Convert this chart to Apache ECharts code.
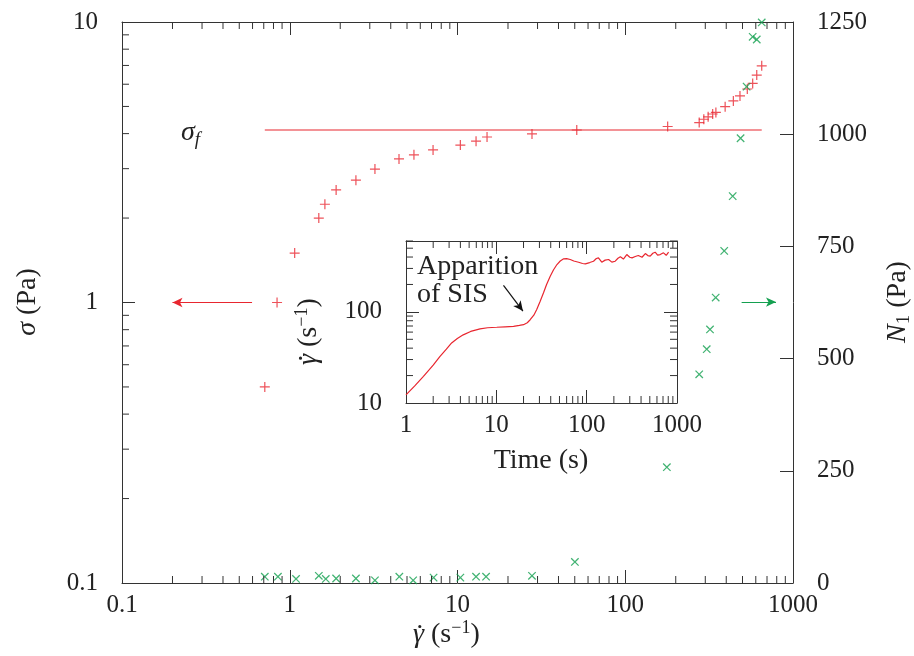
<!DOCTYPE html>
<html><head><meta charset="utf-8">
<script src="https://cdn.jsdelivr.net/npm/echarts@6/dist/echarts.min.js"></script>
<style>html,body{margin:0;padding:0;background:#fff}#c{width:914px;height:656px}</style>
</head><body><div id="c"></div>
<script>
// ---- main plot data ----
const sigmaRate = [0.71,0.84,1.07,1.49,1.62,1.89,2.48,3.22,4.48,5.5,7.15,10.4,12.9,15,27.8,51.4,179,276,294,312,332,347,394,441,483,534,575,608,651];
const sigmaVals = [0.5,1.0,1.5,2.0,2.24,2.52,2.73,2.99,3.25,3.36,3.5,3.64,3.76,3.89,3.99,4.12,4.24,4.38,4.5,4.59,4.7,4.76,4.99,5.23,5.45,5.77,6.04,6.47,6.98];
const n1Rate = [0.71,0.85,1.09,1.49,1.64,1.89,2.48,3.22,4.5,5.44,7.2,10.4,12.9,14.8,27.8,50.1,177,276,306,320,346,389,437,487,529,575,608,651];
const n1Vals = [14,14,9,16,9,10,10,6,14,6,12,12,14,14,16,47,258,465,521,565,636,740,862,991,1106,1217,1211,1249];
const sigmaFRate = [0.71, 651];
const sigmaF = 4.12;
const redArrow = [[0.596, 1], [0.2, 1]];      // x: rate, y: sigma
const greenArrow = [[494, 626], [792, 626]];  // x: rate, y: N1
// ---- inset data ----
const insetTime = [1,1.25,1.56,2,2.38,2.8,3.2,3.7,4.3,5.2,6.6,8,10.1,12.5,15.5,18,20,22,23.7,26,28,30.5,33.3,36,39.5,43,46.9,51,55.6,60,65.8,72,81.4,90,96.6,108,119,128,135,147,160,175,190,207,222,236,255,278,300,318,345,373,410,446,475,505,540,573,610,652,680,708,760,807];
const insetRate = [12.3,15.4,19.6,26,32.5,39,45.6,51,56,61,65,67,67.8,68.6,69.5,71,72.4,76,82,92,106,130,162,200,246,290,331,362,382,384,376,362,351,340,337,348,360,385,392,351,370,376,352,360,388,402,380,426,398,392,405,416,398,437,415,409,440,452,420,426,448,445,418,452];
const insetArrow = [[12, 195], [19.7, 102]];
// ---- tick labels ----
const xTicks = [0.1, 1, 10, 100, 1000];
const sigmaTicks = [0.1, 1, 10];
const n1Ticks = [0, 250, 500, 750, 1000, 1250];
const insetXTicks = [1, 10, 100, 1000];
const insetYTicks = [10, 100];

const RED = '#e8262f', GREEN = '#14a050', AX = '#333', TXT = '#222';
const FONT = 'Liberation Serif';
const PLUS = 'path://M-1.2,-10L1.2,-10L1.2,-1.2L10,-1.2L10,1.2L1.2,1.2L1.2,10L-1.2,10L-1.2,1.2L-10,1.2L-10,-1.2L-1.2,-1.2Z';

function minors(decades, ks) { const r = []; decades.forEach(d => ks.forEach(k => r.push(+(d * k).toPrecision(6)))); return r; }
const mainXMinor = minors([0.1, 1, 10, 100], [2,3,4,5,6,7,8,9]);
const mainYMinor = minors([0.1, 1], [2,3,4,5,6,7,8,9]);
const insetXMinor = minors([1, 10, 100], [2,3,4,5,6,7,8,9]);
const insetYMinor = minors([10], [2,3,4,5,6,7,8,9]).concat(minors([100], [2,3,4,5,6]));

function fmt(list) { return v => { for (const t of list) if (Math.abs(v - t) / Math.max(t, 1e-9) < 1e-6 || v === t) return String(t); return ''; }; }

function logAxis(grid, pos, min, max, labels, showLabel, margin) {
  return {
    type: 'log', logBase: 10, gridIndex: grid, position: pos, min: min, max: max,
    axisLine: { show: true, lineStyle: { color: AX, width: 1 } },
    axisTick: { show: true, inside: true, length: 13, lineStyle: { color: AX, width: 1 } },
    axisLabel: { show: showLabel, formatter: fmt(labels), fontFamily: FONT, fontSize: 25, color: TXT, margin: margin, showMinLabel: true, showMaxLabel: true },
    splitLine: { show: false }, minorTick: { show: false }
  };
}

function tickSeries(xi, yi, vals, axis, lo, hi, both, len) {
  return {
    type: 'custom', xAxisIndex: xi, yAxisIndex: yi, silent: true, clip: false, z: 5,
    data: vals.map(v => axis === 'x' ? [v, lo] : [lo, v]),
    renderItem: (params, api) => {
      const ch = [];
      const st = { stroke: AX, lineWidth: 1 };
      if (axis === 'x') {
        const v = api.value(0);
        const a = api.coord([v, lo]);
        ch.push({ type: 'line', shape: { x1: a[0], y1: a[1], x2: a[0], y2: a[1] - len }, style: st });
        if (both) { const b = api.coord([v, hi]); ch.push({ type: 'line', shape: { x1: b[0], y1: b[1], x2: b[0], y2: b[1] + len }, style: st }); }
      } else {
        const v = api.value(1);
        const a = api.coord([lo, v]);
        ch.push({ type: 'line', shape: { x1: a[0], y1: a[1], x2: a[0] + len, y2: a[1] }, style: st });
        if (both) { const b = api.coord([hi, v]); ch.push({ type: 'line', shape: { x1: b[0], y1: b[1], x2: b[0] - len, y2: b[1] }, style: st }); }
      }
      return { type: 'group', children: ch };
    }
  };
}

const FS = 28;
const rich = {
  a: { fontFamily: FONT, fontSize: FS, lineHeight: 32, color: TXT },
  i: { fontFamily: FONT, fontSize: FS, lineHeight: 32, fontStyle: 'italic', color: TXT },
  sub: { fontFamily: FONT, fontSize: 19, lineHeight: 18, fontStyle: 'italic', verticalAlign: 'bottom', color: TXT },
  subr: { fontFamily: FONT, fontSize: 19, lineHeight: 18, verticalAlign: 'bottom', color: TXT },
  sup: { fontFamily: FONT, fontSize: 18, lineHeight: 17, verticalAlign: 'top', color: TXT }
};
function txt(x, y, text, rot, align) {
  return { type: 'text', x: x, y: y, rotation: rot || 0, silent: true, z: 10,
    style: { text: text, rich: rich, align: align || 'center', verticalAlign: 'middle', font: FS + 'px ' + FONT, fill: TXT } };
}
// gamma-dot label: left-aligned text in a (possibly rotated) group, with the dot drawn above the gamma
function gdot(x, y, rot, startOffset) {
  return { type: 'group', x: x, y: y, rotation: rot || 0, silent: true, z: 10, children: [
    { type: 'text', x: startOffset, y: 0, silent: true,
      style: { text: '{i|γ}{a| (s}{sup|−1}{a|)}', rich: rich, align: 'left', verticalAlign: 'middle', font: FS + 'px ' + FONT, fill: TXT } },
    { type: 'circle', silent: true, shape: { cx: startOffset + 6.8, cy: -8.5, r: 1.6 }, style: { fill: TXT } }
  ] };
}

const chart = echarts.init(document.getElementById('c'), null, { renderer: 'canvas' });
chart.setOption({
  animation: false,
  backgroundColor: '#fff',
  grid: [
    { left: 122, top: 22, width: 671, height: 561, outerBoundsMode: 'none', containLabel: false },
    { left: 406, top: 241, width: 271, height: 162, outerBoundsMode: 'none', containLabel: false, show: true, backgroundColor: '#fff', borderWidth: 0, z: 3 }
  ],
  xAxis: [
    logAxis(0, 'bottom', 0.1, 1000, xTicks, true, 10),
    logAxis(0, 'top', 0.1, 1000, xTicks, false, 10),
    Object.assign(logAxis(1, 'bottom', 1, 1000, insetXTicks, true, 10), { z: 6 }),
    Object.assign(logAxis(1, 'top', 1, 1000, insetXTicks, false, 10), { z: 6 })
  ],
  yAxis: [
    logAxis(0, 'left', 0.1, 10, sigmaTicks, true, 24),
    { type: 'value', gridIndex: 0, position: 'right', min: 0, max: 1250, interval: 250,
      axisLine: { show: true, lineStyle: { color: AX, width: 1 } },
      axisTick: { show: true, inside: true, length: 13, lineStyle: { color: AX, width: 1 } },
      axisLabel: { fontFamily: FONT, fontSize: 25, color: TXT, margin: 24, formatter: fmt(n1Ticks) },
      splitLine: { show: false } },
    Object.assign(logAxis(1, 'left', 10, 600, insetYTicks, true, 24), { z: 6 }),
    Object.assign(logAxis(1, 'right', 10, 600, insetYTicks, false, 24), { z: 6 })
  ],
  series: [
    tickSeries(0, 0, mainXMinor, 'x', 0.1, 10, true, 7),
    tickSeries(0, 0, mainYMinor, 'y', 0.1, 1000, false, 7),
    Object.assign(tickSeries(2, 2, insetXMinor, 'x', 10, 600, true, 7), { z: 7 }),
    Object.assign(tickSeries(2, 2, insetYMinor, 'y', 1, 1000, true, 7), { z: 7 }),
    { type: 'line', xAxisIndex: 0, yAxisIndex: 0, data: sigmaFRate.map(x => [x, sigmaF]), showSymbol: false, symbol: 'none',
      lineStyle: { color: RED, width: 1.2 }, z: 2, silent: true },
    { type: 'scatter', xAxisIndex: 0, yAxisIndex: 0, data: sigmaRate.map((x, i) => [x, sigmaVals[i]]),
      symbol: PLUS, symbolSize: 10, itemStyle: { color: RED }, z: 4, silent: true,
      markLine: { silent: true, symbol: ['none', 'arrow'], symbolSize: [7, 10], label: { show: false },
        lineStyle: { color: RED, width: 1.2, type: 'solid' },
        data: [[{ coord: redArrow[0] }, { coord: redArrow[1] }]] } },
    { type: 'scatter', xAxisIndex: 0, yAxisIndex: 1, data: n1Rate.map((x, i) => [x, n1Vals[i]]),
      symbol: PLUS, symbolSize: 10.5, symbolRotate: 45, itemStyle: { color: GREEN }, z: 4, silent: true,
      markLine: { silent: true, symbol: ['none', 'arrow'], symbolSize: [7, 10], label: { show: false },
        lineStyle: { color: GREEN, width: 1.2, type: 'solid' },
        data: [[{ coord: greenArrow[0] }, { coord: greenArrow[1] }]] } },
    { type: 'line', xAxisIndex: 2, yAxisIndex: 2, data: insetTime.map((x, i) => [x, insetRate[i]]),
      showSymbol: false, symbol: 'none', smooth: false, lineStyle: { color: RED, width: 1.2 }, z: 8, silent: true,
      markLine: { silent: true, symbol: ['none', 'arrow'], symbolSize: [7, 10], label: { show: false },
        lineStyle: { color: '#111', width: 1.2, type: 'solid' },
        data: [[{ coord: insetArrow[0] }, { coord: insetArrow[1] }]] } }
  ],
  graphic: [
    txt(181, 133, '{i|σ}{sub|f}', 0, 'left'),
    txt(28, 302, '{i|σ}{a| (Pa)}', Math.PI / 2),
    txt(898, 302, '{i|N}{subr|1}{a| (Pa)}', Math.PI / 2),
    gdot(413, 635, 0, 0),
    gdot(309, 325, Math.PI / 2, -40),
    txt(541, 461, '{a|Time (s)}', 0),
    { type: 'text', x: 417, y: 253, silent: true, z: 10,
      style: { text: 'Apparition\nof SIS', font: FS + 'px ' + FONT, fill: TXT, lineHeight: 28, align: 'left', verticalAlign: 'top' } }
  ]
});
</script></body></html>
